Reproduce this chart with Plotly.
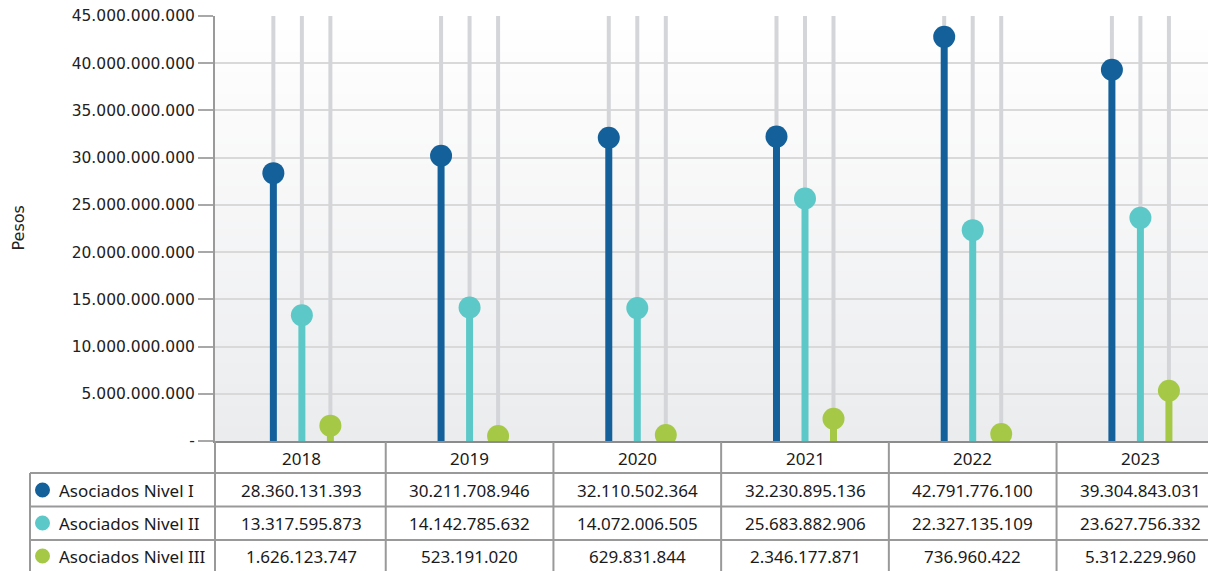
import plotly.graph_objects as go

# ---------------- data ----------------
years = ["2018", "2019", "2020", "2021", "2022", "2023"]
series_names = ["Asociados Nivel I", "Asociados Nivel II", "Asociados Nivel III"]
nivel_1 = [28360131393, 30211708946, 32110502364, 32230895136, 42791776100, 39304843031]
nivel_2 = [13317595873, 14142785632, 14072006505, 25683882906, 22327135109, 23627756332]
nivel_3 = [1626123747, 523191020, 629831844, 2346177871, 736960422, 5312229960]
y_tick_values = [0, 5e9, 10e9, 15e9, 20e9, 25e9, 30e9, 35e9, 40e9, 45e9]
y_axis_title = "Pesos"

series_values = [nivel_1, nivel_2, nivel_3]
colors = ["#13609a", "#5cc8c8", "#a5c947"]

# ---------------- layout helpers ----------------
W, H = 1208, 571
L, R, T, B = 215, 0, 16, 130
PW, PH = W - L - R, H - T - B


def px_x(p):
    return (p - L) / PW


def px_y(p):
    return (H - B - p) / PH


def fmt(v):
    return f"{int(v):,}".replace(",", ".")


y_max = y_tick_values[-1]
offsets = [-0.17, 0.0, 0.17]

fig = go.Figure()

# gray background stems
gx, gy = [], []
for k in range(3):
    for i in range(len(years)):
        gx += [i + offsets[k], i + offsets[k], None]
        gy += [0, y_max, None]
fig.add_trace(go.Scatter(x=gx, y=gy, mode="lines",
                         line=dict(color="#d4d5d8", width=4),
                         hoverinfo="skip", showlegend=False))

# colored stems + markers
for k, vals in enumerate(series_values):
    sx, sy = [], []
    for i, v in enumerate(vals):
        sx += [i + offsets[k], i + offsets[k], None]
        sy += [0, v, None]
    fig.add_trace(go.Scatter(x=sx, y=sy, mode="lines",
                             line=dict(color=colors[k], width=7),
                             hoverinfo="skip", showlegend=False))
for k, vals in enumerate(series_values):
    fig.add_trace(go.Scatter(x=[i + offsets[k] for i in range(len(years))], y=vals,
                             mode="markers", name=series_names[k],
                             marker=dict(color=colors[k], size=22, line=dict(width=0)),
                             showlegend=False))

shapes = []
# background gradient
n = 60
top_c = (255, 255, 255)
bot_c = (235, 236, 238)
for k in range(n):
    t = k / (n - 1)
    c = tuple(round(top_c[j] + (bot_c[j] - top_c[j]) * t) for j in range(3))
    shapes.append(dict(type="rect", xref="paper", yref="paper", layer="below",
                       x0=0, x1=1, y0=0, y1=1 - k / n,
                       fillcolor=f"rgb{c}", line=dict(width=0)))

line_c = "#999999"
bottom = px_y(H + 5)
# table horizontal lines
for yp in [473, 506.5, 540]:
    shapes.append(dict(type="line", xref="paper", yref="paper",
                       x0=px_x(30), x1=1.0, y0=px_y(yp), y1=px_y(yp),
                       line=dict(color=line_c, width=2)))
# table vertical lines
shapes.append(dict(type="line", xref="paper", yref="paper",
                   x0=px_x(30), x1=px_x(30), y0=px_y(473), y1=bottom,
                   line=dict(color=line_c, width=2)))
shapes.append(dict(type="line", xref="paper", yref="paper",
                   x0=0, x1=0, y0=px_y(441), y1=bottom,
                   line=dict(color=line_c, width=2)))
for i in range(1, len(years)):
    shapes.append(dict(type="line", xref="x", yref="paper",
                       x0=i - 0.5, x1=i - 0.5, y0=px_y(442), y1=bottom,
                       line=dict(color=line_c, width=2)))
# legend circles
row_y = [490, 523, 556]
for k in range(3):
    shapes.append(dict(type="circle", xref="paper", yref="paper",
                       xsizemode="pixel", ysizemode="pixel",
                       xanchor=px_x(42.5), yanchor=px_y(row_y[k]),
                       x0=-7.5, x1=7.5, y0=-7.5, y1=7.5,
                       fillcolor=colors[k], line=dict(width=0)))

annotations = []
tfont = dict(family="Noto Sans", size=17, color="#1a1a1a")
for i, yr in enumerate(years):
    annotations.append(dict(x=i, y=px_y(458), xref="x", yref="paper", text=yr,
                            showarrow=False, font=tfont, xanchor="center", yanchor="middle"))
    for k, vals in enumerate(series_values):
        annotations.append(dict(x=i, y=px_y(row_y[k]), xref="x", yref="paper",
                                text=fmt(vals[i]), showarrow=False, font=tfont,
                                xanchor="center", yanchor="middle"))
for k in range(3):
    annotations.append(dict(x=px_x(57), y=px_y(row_y[k]), xref="paper", yref="paper",
                            text=series_names[k], showarrow=False, font=tfont,
                            xanchor="left", yanchor="middle"))
annotations.append(dict(x=px_x(18), y=0.5, xref="paper", yref="paper", text=y_axis_title,
                        textangle=-90, showarrow=False,
                        font=dict(family="DejaVu Sans", size=16, color="#222222"),
                        xanchor="center", yanchor="middle"))

fig.update_layout(
    width=W, height=H,
    margin=dict(l=L, r=R, t=T, b=B, pad=0),
    paper_bgcolor="white", plot_bgcolor="rgba(0,0,0,0)",
    shapes=shapes, annotations=annotations,
    showlegend=False,
    xaxis=dict(range=[-0.518, 5.403], showticklabels=False, showgrid=False,
               zeroline=False, showline=True, linecolor="#8c8c8c", linewidth=2,
               ticks=""),
    yaxis=dict(range=[0, y_max], tickvals=y_tick_values,
               ticktext=["-" if v == 0 else fmt(v) for v in y_tick_values],
               showgrid=True, gridcolor="#d9d9d9", gridwidth=2,
               zeroline=False, showline=True, linecolor="#9a9a9a", linewidth=2,
               ticks="outside", ticklen=15, tickcolor="#a8a8a8", tickwidth=2,
               tickfont=dict(family="DejaVu Sans", size=15.5, color="#222222")),
)

fig.write_html("out.html", config={"displayModeBar": False},
               post_script="document.body.style.margin='0px';document.body.style.overflow='hidden';")
